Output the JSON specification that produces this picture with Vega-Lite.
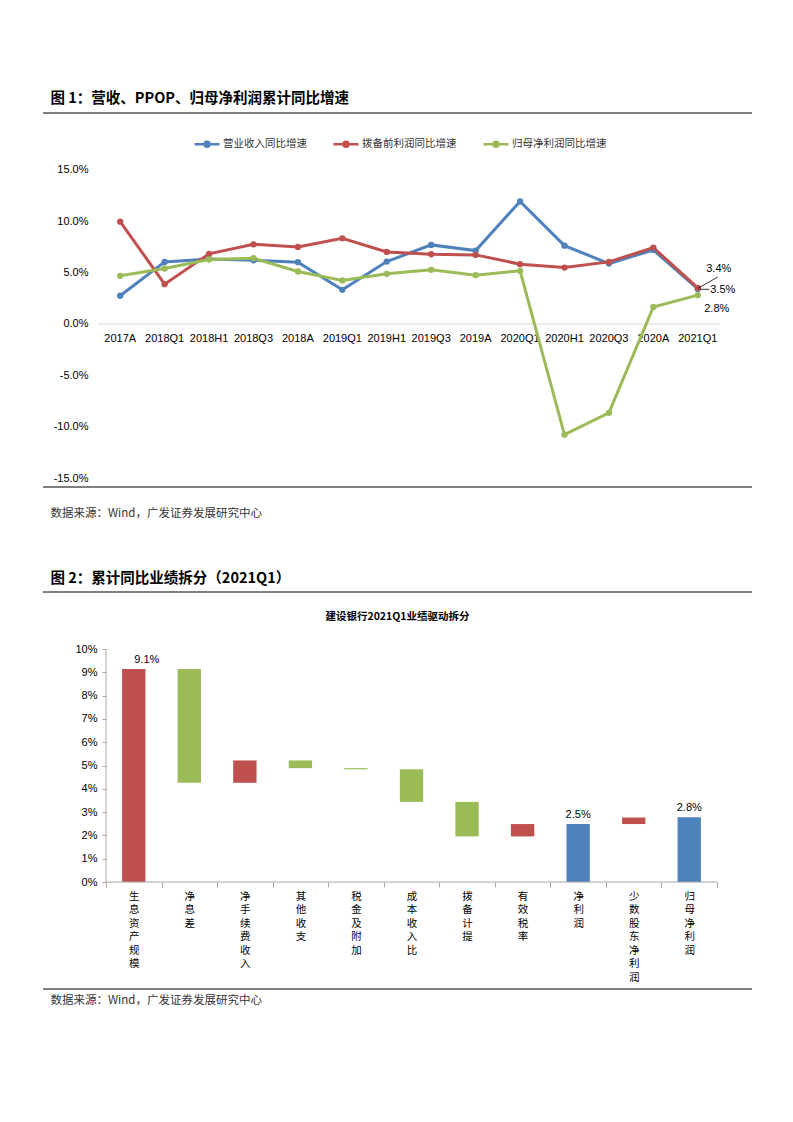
{
  "$schema": "https://vega.github.io/schema/vega-lite/v6.json",
  "background": "#ffffff",
  "padding": {"top": 91, "left": 42, "right": 5, "bottom": 5},
  "config": {"view": {"stroke": null}, "font": "Liberation Sans", "axis": {"labelOverlap": false}, "axisX": {"labelAlign": "center", "labelAngle": 0}},
  "spacing": 52,
  "resolve": {"scale": {"color": "independent", "x": "independent", "y": "independent"}, "legend": {"color": "independent"}},
  "vconcat": [
    {
      "title": {"text": "数据来源：Wind，广发证券发展研究中心", "orient": "bottom", "anchor": "start", "dx": 8, "offset": 20, "fontSize": 11.5, "font": "Noto Sans CJK SC", "fontWeight": "normal", "color": "#333333"},
      "vconcat": [
        {
          "width": 709,
          "height": 374,
          "title": {"text": "图 1：营收、PPOP、归母净利润累计同比增速", "anchor": "start", "dx": 8, "offset": 6, "fontSize": 14.5, "font": "Noto Sans CJK SC", "fontWeight": "bold", "color": "#000000"},
          "data": {"values": [
            {"period": "2017A", "series": "营业收入同比增速", "value": 0.0274},
            {"period": "2018Q1", "series": "营业收入同比增速", "value": 0.0603},
            {"period": "2018H1", "series": "营业收入同比增速", "value": 0.0630},
            {"period": "2018Q3", "series": "营业收入同比增速", "value": 0.0619},
            {"period": "2018A", "series": "营业收入同比增速", "value": 0.0600},
            {"period": "2019Q1", "series": "营业收入同比增速", "value": 0.0332},
            {"period": "2019H1", "series": "营业收入同比增速", "value": 0.0606},
            {"period": "2019Q3", "series": "营业收入同比增速", "value": 0.0768},
            {"period": "2019A", "series": "营业收入同比增速", "value": 0.0713},
            {"period": "2020Q1", "series": "营业收入同比增速", "value": 0.1190},
            {"period": "2020H1", "series": "营业收入同比增速", "value": 0.0761},
            {"period": "2020Q3", "series": "营业收入同比增速", "value": 0.0587},
            {"period": "2020A", "series": "营业收入同比增速", "value": 0.0719},
            {"period": "2021Q1", "series": "营业收入同比增速", "value": 0.0340},
            {"period": "2017A", "series": "拨备前利润同比增速", "value": 0.0994},
            {"period": "2018Q1", "series": "拨备前利润同比增速", "value": 0.0387},
            {"period": "2018H1", "series": "拨备前利润同比增速", "value": 0.0681},
            {"period": "2018Q3", "series": "拨备前利润同比增速", "value": 0.0774},
            {"period": "2018A", "series": "拨备前利润同比增速", "value": 0.0748},
            {"period": "2019Q1", "series": "拨备前利润同比增速", "value": 0.0832},
            {"period": "2019H1", "series": "拨备前利润同比增速", "value": 0.0700},
            {"period": "2019Q3", "series": "拨备前利润同比增速", "value": 0.0677},
            {"period": "2019A", "series": "拨备前利润同比增速", "value": 0.0671},
            {"period": "2020Q1", "series": "拨备前利润同比增速", "value": 0.0581},
            {"period": "2020H1", "series": "拨备前利润同比增速", "value": 0.0548},
            {"period": "2020Q3", "series": "拨备前利润同比增速", "value": 0.0603},
            {"period": "2020A", "series": "拨备前利润同比增速", "value": 0.0742},
            {"period": "2021Q1", "series": "拨备前利润同比增速", "value": 0.0350},
            {"period": "2017A", "series": "归母净利润同比增速", "value": 0.0468},
            {"period": "2018Q1", "series": "归母净利润同比增速", "value": 0.0539},
            {"period": "2018H1", "series": "归母净利润同比增速", "value": 0.0626},
            {"period": "2018Q3", "series": "归母净利润同比增速", "value": 0.0639},
            {"period": "2018A", "series": "归母净利润同比增速", "value": 0.0510},
            {"period": "2019Q1", "series": "归母净利润同比增速", "value": 0.0423},
            {"period": "2019H1", "series": "归母净利润同比增速", "value": 0.0487},
            {"period": "2019Q3", "series": "归母净利润同比增速", "value": 0.0526},
            {"period": "2019A", "series": "归母净利润同比增速", "value": 0.0474},
            {"period": "2020Q1", "series": "归母净利润同比增速", "value": 0.0516},
            {"period": "2020H1", "series": "归母净利润同比增速", "value": -0.1075},
            {"period": "2020Q3", "series": "归母净利润同比增速", "value": -0.0863},
            {"period": "2020A", "series": "归母净利润同比增速", "value": 0.0165},
            {"period": "2021Q1", "series": "归母净利润同比增速", "value": 0.0280}
          ]},
          "layer": [
            {
              "data": {"values": [{}]},
              "mark": {"type": "rule", "color": "#D9D9D9", "strokeWidth": 1},
              "encoding": {
                "x": {"datum": "2017A", "type": "nominal", "bandPosition": 0},
                "x2": {"datum": "2021Q1", "bandPosition": 1},
                "y": {"datum": 0, "type": "quantitative"}
              }
            },
            {
              "mark": {"type": "line", "strokeWidth": 3, "point": {"filled": true, "size": 40}},
              "encoding": {
                "x": {"field": "period", "type": "nominal", "sort": null,
                  "scale": {"type": "band", "domain": ["2017A","2018Q1","2018H1","2018Q3","2018A","2019Q1","2019H1","2019Q3","2019A","2020Q1","2020H1","2020Q3","2020A","2021Q1"], "paddingInner": 0, "paddingOuter": 0.979, "align": 0.632},
                  "axis": {"title": null, "orient": "bottom", "offset": -163, "bandPosition": 0.5, "domain": false, "ticks": false, "labelAngle": 0, "labelAlign": "center", "labelFont": "Liberation Sans", "labelFontSize": 11, "labelColor": "#000000", "labelPadding": 8, "labelOverlap": false}},
                "y": {"field": "value", "type": "quantitative",
                  "scale": {"domain": [-0.1583, 0.2049], "nice": false, "zero": false},
                  "axis": {"title": null, "values": [-0.15, -0.1, -0.05, 0, 0.05, 0.1, 0.15], "tickCount": 20, "labelExpr": "(datum.value < 0 ? '-' : '') + format(abs(datum.value), '.1%')", "offset": -47, "domain": false, "ticks": false, "grid": false, "labelPadding": 2, "labelOverlap": false, "labelFont": "Liberation Sans", "labelFontSize": 11, "labelColor": "#000000"}},
                "color": {"field": "series", "type": "nominal",
                  "scale": {"domain": ["营业收入同比增速", "拨备前利润同比增速", "归母净利润同比增速"], "range": ["#4F81BD", "#C0504D", "#9BBB59"]},
                  "legend": {"title": null, "orient": "none", "legendX": 150, "legendY": 17, "direction": "horizontal",
                    "symbolType": "M-1,0H1M-0.2,0A0.2,0.2,0,1,0,0.2,0A0.2,0.2,0,1,0,-0.2,0Z", "symbolSize": 625, "symbolStrokeWidth": 2.5,
                    "labelFont": "Noto Sans CJK SC", "labelFontSize": 10.5, "labelColor": "#333333", "labelOffset": 2, "columnPadding": 21, "padding": 0,
                    "encode": {"symbols": {"update": {"fill": {"scale": "color", "field": "value"}, "fillOpacity": {"value": 1}}}}}}
              }
            },
            {
              "data": {"values": [{}]},
              "mark": {"type": "rule", "color": "#000000", "strokeWidth": 1},
              "encoding": {"y": {"datum": 0.2049, "type": "quantitative"}}
            },
            {
              "data": {"values": [{}]},
              "mark": {"type": "rule", "color": "#000000", "strokeWidth": 1},
              "encoding": {"y": {"datum": -0.1583, "type": "quantitative"}}
            },
            {
              "data": {"values": [{}]},
              "mark": {"type": "rule", "color": "#000000", "strokeWidth": 0.8},
              "encoding": {
                "x": {"datum": "2021Q1", "type": "nominal", "bandPosition": 0.95},
                "x2": {"datum": "2021Q1", "bandPosition": 0.5},
                "y": {"datum": 0.0456, "type": "quantitative"},
                "y2": {"datum": 0.0345}
              }
            },
            {
              "data": {"values": [{}]},
              "mark": {"type": "rule", "color": "#000000", "strokeWidth": 0.8},
              "encoding": {
                "x": {"datum": "2021Q1", "type": "nominal", "bandPosition": 0.55},
                "x2": {"datum": "2021Q1", "bandPosition": 0.76},
                "y": {"datum": 0.0337, "type": "quantitative"}
              }
            },
            {
              "transform": [{"filter": "datum.period == '2021Q1' && datum.series == '营业收入同比增速'"}],
              "mark": {"type": "text", "dx": 21, "dy": -20, "fontSize": 11, "font": "Liberation Sans", "color": "#000000"},
              "encoding": {"x": {"field": "period", "type": "nominal"}, "y": {"field": "value", "type": "quantitative"}, "text": {"field": "value", "format": ".1%"}}
            },
            {
              "transform": [{"filter": "datum.period == '2021Q1' && datum.series == '拨备前利润同比增速'"}],
              "mark": {"type": "text", "dx": 25, "dy": 2, "fontSize": 11, "font": "Liberation Sans", "color": "#000000"},
              "encoding": {"x": {"field": "period", "type": "nominal"}, "y": {"field": "value", "type": "quantitative"}, "text": {"field": "value", "format": ".1%"}}
            },
            {
              "transform": [{"filter": "datum.period == '2021Q1' && datum.series == '归母净利润同比增速'"}],
              "mark": {"type": "text", "dx": 19, "dy": 14, "fontSize": 11, "font": "Liberation Sans", "color": "#000000"},
              "encoding": {"x": {"field": "period", "type": "nominal"}, "y": {"field": "value", "type": "quantitative"}, "text": {"field": "value", "format": ".1%"}}
            }
          ]
        }
      ]
    },
    {
      "title": {"text": "数据来源：Wind，广发证券发展研究中心", "orient": "bottom", "anchor": "start", "dx": 8, "offset": 5, "fontSize": 11.5, "font": "Noto Sans CJK SC", "fontWeight": "normal", "color": "#333333"},
      "vconcat": [
        {
          "width": 709,
          "height": 397,
          "title": {"text": "图 2：累计同比业绩拆分（2021Q1）", "anchor": "start", "dx": 8, "offset": 5, "fontSize": 14.5, "font": "Noto Sans CJK SC", "fontWeight": "bold", "color": "#000000"},
          "data": {"values": [
            {"item": "生息资产规模", "start": 0, "end": 0.0914, "kind": "增加"},
            {"item": "净息差", "start": 0.0914, "end": 0.0426, "kind": "减少"},
            {"item": "净手续费收入", "start": 0.0426, "end": 0.0522, "kind": "增加"},
            {"item": "其他收支", "start": 0.0522, "end": 0.0489, "kind": "减少"},
            {"item": "税金及附加", "start": 0.0489, "end": 0.0484, "kind": "减少"},
            {"item": "成本收入比", "start": 0.0484, "end": 0.0344, "kind": "减少"},
            {"item": "拨备计提", "start": 0.0344, "end": 0.0196, "kind": "减少"},
            {"item": "有效税率", "start": 0.0196, "end": 0.0249, "kind": "增加"},
            {"item": "净利润", "start": 0, "end": 0.0249, "kind": "合计"},
            {"item": "少数股东净利润", "start": 0.0249, "end": 0.0277, "kind": "增加"},
            {"item": "归母净利润", "start": 0, "end": 0.0278, "kind": "合计"}
          ]},
          "layer": [
            {
              "mark": {"type": "bar", "width": {"band": 0.42}},
              "encoding": {
                "x": {"field": "item", "type": "nominal", "sort": null,
                  "scale": {"type": "band", "domain": ["生息资产规模","净息差","净手续费收入","其他收支","税金及附加","成本收入比","拨备计提","有效税率","净利润","少数股东净利润","归母净利润"], "paddingInner": 0, "paddingOuter": 0.882, "align": 0.643},
                  "axis": {"title": null, "orient": "bottom", "offset": -107, "domain": false, "ticks": true, "tickBand": "extent", "tickSize": 5, "tickColor": "#A6A6A6", "labelAngle": 0, "labelExpr": "split(datum.label, '')", "labelFont": "Noto Sans CJK SC", "labelFontSize": 10.5, "labelLineHeight": 13.5, "labelBaseline": "top", "labelColor": "#000000", "labelPadding": 4, "labelOverlap": false}},
                "y": {"field": "start", "type": "quantitative",
                  "scale": {"domain": [-0.0459, 0.1245], "nice": false, "zero": false},
                  "axis": {"title": null, "values": [0, 0.01, 0.02, 0.03, 0.04, 0.05, 0.06, 0.07, 0.08, 0.09, 0.1], "tickCount": 20, "labelExpr": "format(datum.value, '.0%')", "offset": -63, "domain": false, "ticks": true, "tickSize": 4, "tickColor": "#A6A6A6", "grid": false, "labelPadding": 5, "labelOverlap": false, "labelFont": "Liberation Sans", "labelFontSize": 11, "labelColor": "#000000"}},
                "y2": {"field": "end"},
                "color": {"field": "kind", "type": "nominal", "scale": {"domain": ["增加", "减少", "合计"], "range": ["#C0504D", "#9BBB59", "#4F81BD"]}, "legend": null}
              }
            },
            {
              "data": {"values": [{}]},
              "mark": {"type": "rule", "color": "#A6A6A6", "strokeWidth": 1},
              "encoding": {
                "x": {"datum": "生息资产规模", "type": "nominal", "bandPosition": 0},
                "y": {"datum": 0, "type": "quantitative"},
                "y2": {"datum": 0.1}
              }
            },
            {
              "data": {"values": [{}]},
              "mark": {"type": "rule", "color": "#A6A6A6", "strokeWidth": 1},
              "encoding": {
                "x": {"datum": "生息资产规模", "type": "nominal", "bandPosition": 0},
                "x2": {"datum": "归母净利润", "bandPosition": 1},
                "y": {"datum": 0, "type": "quantitative"}
              }
            },
            {
              "data": {"values": [{}]},
              "mark": {"type": "rule", "color": "#000000", "strokeWidth": 1},
              "encoding": {"y": {"datum": 0.1245, "type": "quantitative"}}
            },
            {
              "data": {"values": [{}]},
              "mark": {"type": "rule", "color": "#000000", "strokeWidth": 1},
              "encoding": {"y": {"datum": -0.0459, "type": "quantitative"}}
            },
            {
              "data": {"values": [{"t": "建设银行2021Q1业绩驱动拆分"}]},
              "mark": {"type": "text", "font": "Noto Sans CJK SC", "fontWeight": "bold", "fontSize": 10.5, "color": "#000000", "baseline": "middle"},
              "encoding": {"y": {"datum": 0.1137, "type": "quantitative"}, "text": {"field": "t"}}
            },
            {
              "transform": [{"filter": "datum.item == '生息资产规模'"}],
              "mark": {"type": "text", "baseline": "bottom", "dy": -4, "dx": 13, "fontSize": 11, "font": "Liberation Sans", "color": "#000000"},
              "encoding": {"x": {"field": "item", "type": "nominal"}, "y": {"field": "end", "type": "quantitative"}, "text": {"field": "end", "format": ".1%"}}
            },
            {
              "transform": [{"filter": "datum.kind == '合计'"}],
              "mark": {"type": "text", "baseline": "bottom", "dy": -4, "fontSize": 11, "font": "Liberation Sans", "color": "#000000"},
              "encoding": {"x": {"field": "item", "type": "nominal"}, "y": {"field": "end", "type": "quantitative"}, "text": {"field": "end", "format": ".1%"}}
            }
          ]
        }
      ]
    }
  ]
}
